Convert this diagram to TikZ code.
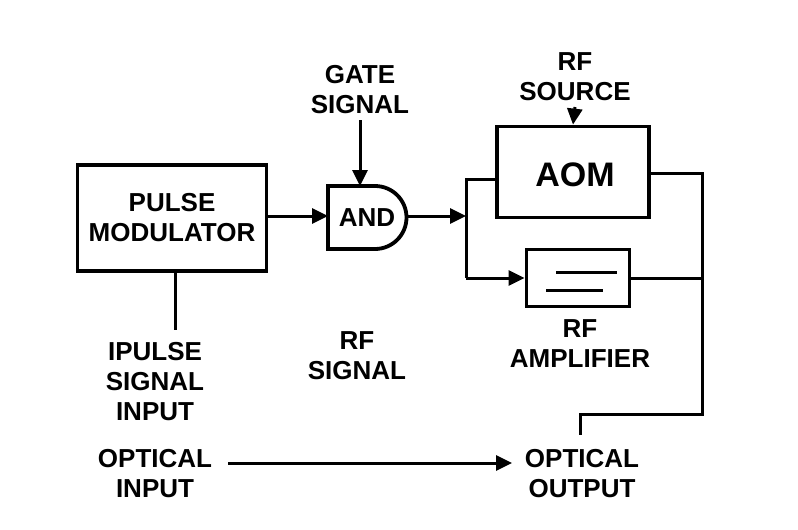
\documentclass[tikz,border=0pt]{standalone}
\usepackage{fontspec}
\setmainfont{Liberation Sans}
\usetikzlibrary{arrows.meta,positioning}
\tikzset{
  blk/.style={draw,line width=3.8pt,inner sep=0pt},
  lbl/.style={align=center,font=\bfseries\fontsize{26}{30}\selectfont,inner sep=0pt},
  wire/.style={line width=3pt},
  arr/.style={wire,-{Triangle[length=16pt,width=15pt]}}
}
\begin{document}
\begin{tikzpicture}[x=1pt,y=-1pt]
\useasboundingbox (0,0) rectangle (798,530);
%
\node[blk,minimum width=189pt,minimum height=106pt,lbl] (pm) at (172,218) {PULSE\\MODULATOR};
\node[lbl] (pin) at (155,382) {IPULSE\\SIGNAL\\INPUT};
\coordinate (pend) at (175,330);
%
\draw[line width=3.8pt,fill=white] (328,186) -- (375,186) arc (-90:90:31.5) -- (328,249) -- cycle;
\node[lbl] (and) at (367,218) {AND};
\coordinate (andin) at (328,216);
\coordinate (andout) at (407,216);
\node[lbl] (gate) at (360,90) {GATE\\SIGNAL};
%
\node[blk,minimum width=152pt,minimum height=91pt] (aom) at (573,172) {};
\node[lbl,font=\bfseries\fontsize{34}{38}\selectfont] at (575,175) {AOM};
\node[lbl] (src) at (575,77) {RF\\SOURCE};
%
\node[blk,minimum width=103pt,minimum height=57pt] (amp) at (578,278) {};
\draw[wire] (556,272) -- (617,272) (546,290) -- (603,290);
\node[lbl] (ampl) at (580,344) {RF\\AMPLIFIER};
\node[lbl] (rfs) at (357,356) {RF\\SIGNAL};
%
\node[lbl] (oin) at (155,474) {OPTICAL\\INPUT};
\node[lbl] (oout) at (582,474) {OPTICAL\\OUTPUT};
%
\coordinate (split) at (466,216);
\coordinate (bus) at (702,173);
\draw[wire] (175,271) -- (pend);
\draw[arr] (pm.east |- andin) -- (andin);
\draw[arr] (360,120) -- (360,186);
\draw[arr] (575,107) -- (aom.north);
\draw[arr] (andout) -- (split);
\draw[wire] (aom.west |- 0,179) -| (466,278);
\draw[arr] (466,278) -- (amp.west);
\draw[wire] (aom.east |- bus) -| (702,414) -| (580,435);
\draw[wire] (amp.east) -- (702,278);
\draw[arr] (228,463) -- (512,463);
\end{tikzpicture}
\end{document}
